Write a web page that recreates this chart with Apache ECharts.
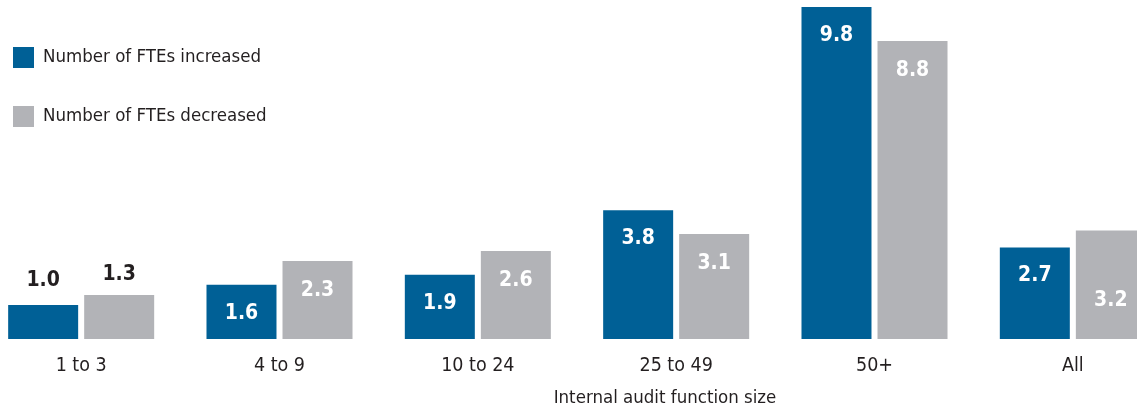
<!DOCTYPE html>
<html>
<head>
<meta charset="utf-8">
<script src="https://cdn.jsdelivr.net/npm/echarts@6/dist/echarts.min.js"></script>
<style>
  html, body { margin: 0; padding: 0; background: #fff; overflow: hidden; }
  #wrap { position: relative; width: 1137px; height: 418px; overflow: hidden; }
  /* the plot runs past both page edges, so the canvas is wider than the page */
  #chart { position: absolute; left: -18px; top: 0; width: 1190px; height: 418px; }
</style>
</head>
<body>
<div id="wrap"><div id="chart"></div></div>
<script>
// Average FTE change by internal audit function size
const categories = ['1 to 3', '4 to 9', '10 to 24', '25 to 49', '50+', 'All'];
const increased = [1.0, 1.6, 1.9, 3.8, 9.8, 2.7];
const decreased = [1.3, 2.3, 2.6, 3.1, 8.8, 3.2];
const seriesNames = ['Number of FTEs increased', 'Number of FTEs decreased'];
const axisTitle = 'Internal audit function size';

const FONT = '"DejaVu Sans Condensed", "Liberation Sans Narrow", "Liberation Sans", sans-serif';
const BLUE = '#006096';
const GREY = '#b2b3b7';
const INK = '#231f20';
const SHIFT = 18; // canvas offset to the left of the page

// Small bars carry their value above the bar; taller ones inside, near the top.
function items(values, overrides) {
  return values.map((v, i) => {
    const o = overrides[i];
    return o ? { value: v, label: o } : v;
  });
}
const outsideLabel = { position: 'top', color: INK };

const valueLabel = {
  show: true, position: 'insideTop', distance: 18,
  color: '#fff', fontFamily: FONT, fontWeight: 'bold', fontSize: 21,
  formatter: p => p.value.toFixed(1)
};

const chart = echarts.init(document.getElementById('chart'), null, { renderer: 'canvas' });
chart.setOption({
  animation: false,
  textStyle: { fontFamily: FONT },
  legend: {
    orient: 'vertical',
    left: 8 + SHIFT,
    top: 42,
    itemWidth: 21,
    itemHeight: 21,
    itemGap: 38,
    icon: 'rect',
    selectedMode: false,
    textStyle: { fontFamily: FONT, fontSize: 18.5, color: INK, padding: [0, 0, 0, 4] },
    data: seriesNames
  },
  grid: { left: 0, right: 0, top: 7, bottom: 79, containLabel: false },
  xAxis: {
    type: 'category',
    data: categories,
    axisLine: { show: false },
    axisTick: { show: false },
    axisLabel: { fontFamily: FONT, fontSize: 19.5, color: INK, margin: 17 }
  },
  yAxis: { type: 'value', min: 0, max: 9.8, show: false, splitLine: { show: false } },
  graphic: [{
    type: 'text',
    x: 665 + SHIFT,
    y: 389,
    style: { text: axisTitle, font: '18.5px ' + FONT, fill: INK, textAlign: 'center' }
  }],
  series: [
    {
      name: seriesNames[0],
      type: 'bar',
      barWidth: 70,
      barGap: '8.6%',
      itemStyle: { color: BLUE },
      label: valueLabel,
      data: items(increased, { 0: Object.assign({}, outsideLabel, { distance: 14 }) })
    },
    {
      name: seriesNames[1],
      type: 'bar',
      barWidth: 70,
      itemStyle: { color: GREY },
      label: Object.assign({}, valueLabel, { distance: 19 }),
      data: items(decreased, {
        0: Object.assign({}, outsideLabel, { distance: 10 }),
        5: { position: 'insideTop', distance: 59 }
      })
    }
  ]
});
</script>
</body>
</html>
